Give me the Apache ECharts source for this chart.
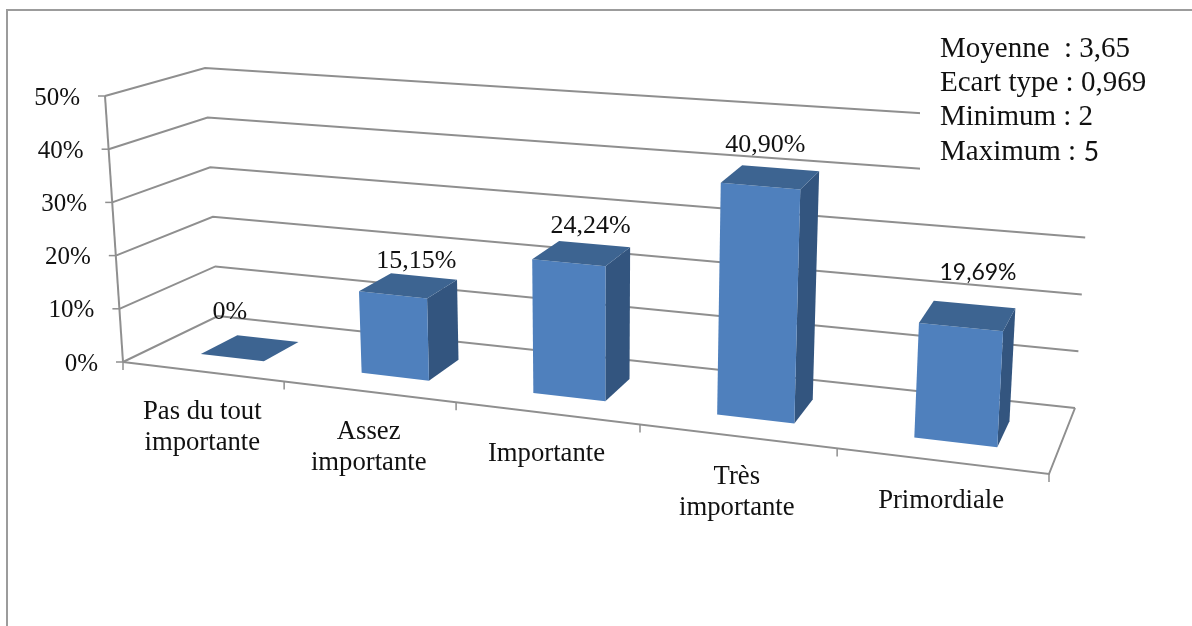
<!DOCTYPE html>
<html>
<head>
<meta charset="utf-8">
<style>html,body{margin:0;padding:0;background:#fff}#c{width:1192px;height:626px}</style>
<script src="https://cdn.jsdelivr.net/npm/echarts@6/dist/echarts.min.js"></script>
</head>
<body>
<div id="c"></div>
<script>
// ---- data ----
const categories = ['Pas du tout\nimportante', 'Assez\nimportante', 'Importante', 'Très\nimportante', 'Primordiale'];
const values = [0, 15.15, 24.24, 40.90, 19.69];
const valueLabels = ['0%', '15,15%', '24,24%', '40,90%', '19,69%'];
const yTicks = [0, 10, 20, 30, 40, 50];
const yTickLabels = ['0%', '10%', '20%', '30%', '40%', '50%'];
const statLines = ['Moyenne  : 3,65', 'Ecart type : 0,969', 'Minimum : 2', 'Maximum : '];
const statLastValue = '5';

// ---- 3D box of the chart, as seen on the page ----
const FBL = [123, 362], FBR = [1049, 474], BBL = [218, 316], BBR = [1075, 408];
const FTL = [105, 96], FTR = [1066, 172], BTL = [205, 68], BTR = [1092, 124];
const K = 0.8427; // foreshortening along the category axis
const DEPTH_FRONT = 0.3, DEPTH_BACK = 0.7, BAR_HALF = 0.2, BAR_SHIFT = 0.004;
const mix = (a, b, s) => [a[0] + (b[0] - a[0]) * s, a[1] + (b[1] - a[1]) * s];
function project(t, v, d) {
  const u = K * t / (1 + (K - 1) * t);
  const fb = mix(FBL, FBR, u), ft = mix(FTL, FTR, u), bb = mix(BBL, BBR, u), bt = mix(BTL, BTR, u);
  return mix(mix(fb, ft, v), mix(bb, bt, v), d);
}
const GRID = '#8f8f8f', SERIF = '"Liberation Serif"';
const lineStyle = {stroke: GRID, lineWidth: 2, fill: null};
const thin = {stroke: GRID, lineWidth: 1.5, fill: null};
const normV = (api, p, val) => (p.coordSys.y + p.coordSys.height - api.coord([0, val])[1]) / p.coordSys.height;
const normT = (api, p, px) => (px - p.coordSys.x) / p.coordSys.width;

const wallSeries = {
  type: 'custom', coordinateSystem: 'cartesian2d', silent: true, z: 1, clip: false,
  data: yTicks.map((y, i) => [0, y, i]),
  encode: {x: 0, y: 1},
  renderItem(p, api) {
    const val = api.value(1), v = normV(api, p, val), i = api.value(2);
    const f = project(0, v, 0), b = project(0, v, 1), r = project(1, v, 1);
    const kids = [
      {type: 'polyline', shape: {points: [f, b, r]}, style: lineStyle},
      {type: 'line', shape: {x1: f[0] - 7, y1: f[1], x2: f[0], y2: f[1]}, style: thin},
      {type: 'text', style: {text: yTickLabels[i], x: f[0] - 25, y: f[1] + 2, align: 'right', verticalAlign: 'middle',
        font: '25px ' + SERIF, fill: '#111'}}
    ];
    if (val === 0) {
      const fr = project(1, 0, 0);
      kids.push({type: 'polyline', shape: {points: [f, fr, r]}, style: lineStyle});
      kids.push({type: 'line', shape: {x1: f[0], y1: f[1], x2: project(0, 1, 0)[0], y2: project(0, 1, 0)[1]}, style: lineStyle});
    }
    return {type: 'group', children: kids};
  }
};

const xTickSeries = {
  type: 'custom', coordinateSystem: 'cartesian2d', silent: true, z: 1, clip: false,
  data: categories.map((c, i) => [i, 0]),
  encode: {x: 0, y: 1},
  renderItem(p, api) {
    const i = api.value(0), band = api.size([1, 0])[0], cx = api.coord([i, 0])[0];
    const t0 = normT(api, p, cx - band / 2), tc = normT(api, p, cx), t1 = normT(api, p, cx + band / 2);
    const a = project(t0, 0, 0), b = project(t1, 0, 0), m = project(tc, 0, 0);
    const kids = [
      {type: 'line', shape: {x1: b[0], y1: b[1], x2: b[0], y2: b[1] + 8}, style: thin},
      {type: 'text', style: {text: categories[i], x: m[0], y: m[1] + 25, align: 'center', verticalAlign: 'top',
        font: '26.7px ' + SERIF, lineHeight: 31, fill: '#111'}}
    ];
    if (i === 0) kids.push({type: 'line', shape: {x1: a[0], y1: a[1], x2: a[0], y2: a[1] + 8}, style: thin});
    return {type: 'group', children: kids};
  }
};

const labelNudge = [[-20, -36], [8, -24], [9, -27], [-5, -32], [10.5, -43]];
const barSeries = {
  type: 'custom', coordinateSystem: 'cartesian2d', silent: true, z: 2, clip: false,
  data: values.map((v, i) => [i, v]),
  encode: {x: 0, y: 1},
  renderItem(p, api) {
    const i = api.value(0), val = api.value(1), band = api.size([1, 0])[0];
    const cx = api.coord([i, 0])[0];
    const tl = normT(api, p, cx - band * BAR_HALF) + BAR_SHIFT, tr = normT(api, p, cx + band * BAR_HALF) + BAR_SHIFT, tc = normT(api, p, cx) + BAR_SHIFT;
    const v = normV(api, p, val);
    const P = (t, h, d) => project(t, h, d);
    const a = P(tl, 0, DEPTH_FRONT), b = P(tr, 0, DEPTH_FRONT), c = P(tr, v, DEPTH_FRONT), e = P(tl, v, DEPTH_FRONT);
    const f = P(tr, 0, DEPTH_BACK), g = P(tr, v, DEPTH_BACK), h = P(tl, v, DEPTH_BACK);
    const top = P(tc, v, 0.5), n = labelNudge[i];
    const lf = i === 4 ? '23px Lato, "Noto Sans"' : '26px ' + SERIF;
    const kids = [];
    if (val > 0) {
      kids.push({type: 'polygon', shape: {points: [b, f, g, c]}, style: {fill: '#33557f'}});
      kids.push({type: 'polygon', shape: {points: [a, b, c, e]}, style: {fill: '#4f80bd'}});
    }
    kids.push({type: 'polygon', shape: {points: [e, c, g, h]}, style: {fill: '#3d6491'}});
    kids.push({type: 'text', style: {text: valueLabels[i], x: top[0] + n[0], y: top[1] + n[1], align: 'center',
      verticalAlign: 'middle', font: lf, fill: '#111'}});
    return {type: 'group', children: kids};
  }
};

const statY = [49, 83, 117, 152];
const graphic = [
  {type: 'polyline', shape: {points: [[7, 626], [7, 10], [1192, 10]]}, style: {stroke: '#9c9c9c', lineWidth: 2, fill: null}, z: 0, silent: true},
  {type: 'rect', shape: {x: 920, y: 20, width: 272, height: 165}, style: {fill: '#fff'}, z: 5, silent: true}
].concat(statLines.map((s, i) => ({
  type: 'text', x: 940, y: statY[i], z: 6, silent: true,
  style: i === 3 ? {
    text: s + '{d|' + statLastValue + '}', font: '29px ' + SERIF, fill: '#111', verticalAlign: 'middle',
    rich: {d: {font: '27px Lato', fill: '#111'}}
  } : {text: s, font: '29px ' + SERIF, fill: '#111', verticalAlign: 'middle'}
})));

const chart = echarts.init(document.getElementById('c'), null, {renderer: 'canvas'});
chart.setOption({
  animation: false,
  backgroundColor: '#fff',
  grid: {left: 0, right: 0, top: 0, bottom: 0},
  xAxis: {type: 'category', data: categories, show: false, boundaryGap: true},
  yAxis: {type: 'value', min: 0, max: 50, interval: 10, show: false},
  graphic,
  series: [wallSeries, xTickSeries, barSeries]
});
</script>
</body>
</html>
